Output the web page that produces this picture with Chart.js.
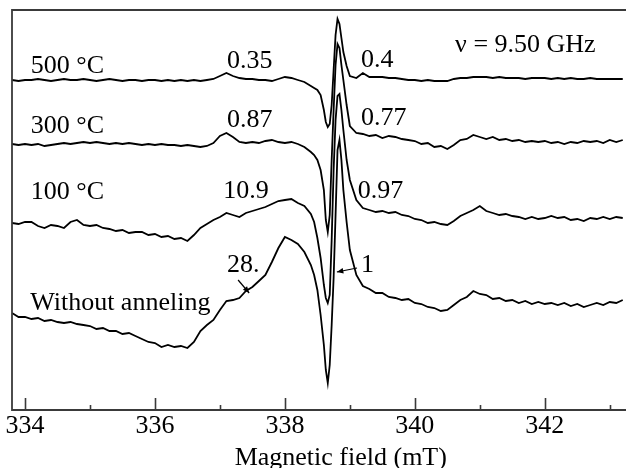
<!DOCTYPE html>
<html>
<head>
<meta charset="utf-8">
<script src="https://cdn.jsdelivr.net/npm/chart.js@4"></script>
<style>
  html, body { margin: 0; padding: 0; background: #fff; }
  canvas { display: block; }
</style>
</head>
<body>
<canvas id="eprChart" width="626" height="468"></canvas>
<script>
// magnetic field grid (mT), finer around the central line
const fields = [
  333.8, 333.9, 334.0, 334.1, 334.2, 334.3, 334.4, 334.5, 334.6, 334.7,
  334.8, 334.9, 335.0, 335.1, 335.2, 335.3, 335.4, 335.5, 335.6, 335.7,
  335.8, 335.9, 336.0, 336.1, 336.2, 336.3, 336.4, 336.5, 336.6, 336.7,
  336.8, 336.9, 337.0, 337.1, 337.2, 337.3, 337.4, 337.5, 337.6, 337.7,
  337.8, 337.9, 338.0, 338.1, 338.2, 338.3, 338.4,
  338.45, 338.5, 338.55, 338.6, 338.63, 338.66, 338.69, 338.72, 338.75, 338.78,
  338.81, 338.84, 338.87, 338.9, 338.95,
  339.0, 339.1, 339.2, 339.3, 339.4, 339.5, 339.6, 339.7, 339.8, 339.9,
  340.0, 340.1, 340.2, 340.3, 340.4, 340.5, 340.6, 340.7, 340.8, 340.9,
  341.0, 341.1, 341.2, 341.3, 341.4, 341.5, 341.6, 341.7, 341.8, 341.9,
  342.0, 342.1, 342.2, 342.3, 342.4, 342.5, 342.6, 342.7, 342.8, 342.9,
  343.0, 343.1, 343.2
];

const tickFields = [334, 336, 338, 340, 342];
const minorFields = [335, 337, 339, 341, 343];

// EPR signal (arbitrary units, spectra stacked with offsets)
const signal500 = [
  330, 329, 330, 330, 331, 330, 329, 330, 331, 330,
  330, 331, 330, 329, 330, 331, 330, 329, 330, 330,
  329, 330, 330, 329, 330, 329, 330, 329, 330, 329,
  330, 331, 334, 337, 334, 332, 331, 331, 330, 330,
  329, 331, 333, 332, 330, 328, 324,
  322, 320, 315, 300, 288, 283, 286, 305, 340, 375,
  391, 386, 372, 358, 344,
  334, 332, 337, 333, 333, 333, 332, 332, 331, 330,
  330, 329, 330, 329, 329, 329, 331, 332, 332, 333,
  333, 333, 332, 333, 332, 332, 332, 331, 332, 332,
  332, 331, 332, 331, 332, 331, 331, 332, 331, 331,
  331, 331, 331
];

const signal300 = [
  266, 265, 266, 265, 266, 264, 265, 266, 267, 266,
  267, 268, 267, 268, 267, 266, 267, 266, 267, 266,
  265, 266, 265, 266, 265, 265, 264, 265, 264, 263,
  264, 267, 274, 277, 273, 268, 267, 268, 267, 269,
  270, 268, 267, 268, 266, 263, 258,
  255, 250, 240, 220, 190, 178, 195, 250, 300, 345,
  366, 362, 345, 330, 305,
  284, 277, 276, 274, 275, 272, 274, 273, 271, 270,
  269, 266, 267, 263, 264, 261, 265, 270, 271, 275,
  273, 271, 273, 270, 271, 269, 270, 268, 269, 268,
  269, 267, 268, 266, 268, 267, 269, 268, 269, 267,
  270, 268, 270
];

const signal100 = [
  187, 186, 188, 188, 184, 182, 185, 184, 182, 188,
  190, 185, 184, 185, 182, 181, 179, 180, 177, 178,
  178, 175, 176, 173, 174, 171, 172, 169, 175, 182,
  186, 190, 193, 197, 195, 193, 197, 199, 201, 203,
  206, 209, 210, 211, 207, 204, 196,
  188, 172, 152, 125, 112, 107, 115, 170, 240, 290,
  314, 316, 300, 280, 250,
  230, 210, 202, 200, 198, 199, 197, 198, 195, 194,
  191, 190, 187, 188, 186, 185, 189, 194, 197, 200,
  204, 199, 197, 195, 196, 194, 193, 191, 193, 191,
  192, 194, 192, 193, 190, 191, 189, 192, 191, 193,
  191, 193, 192
];

const signalRaw = [
  97, 93, 93, 91, 92, 89, 90, 88, 87, 88,
  86, 85, 84, 81, 82, 79, 79, 76, 77, 74,
  71, 68, 67, 63, 65, 63, 64, 62, 68, 79,
  85, 90, 100, 109, 110, 112, 119, 123, 129, 135,
  148, 162, 173, 170, 166, 158, 145,
  135, 120, 95, 65, 40, 27, 45, 85, 132, 195,
  260, 270, 250, 220, 188,
  160, 135, 124, 121, 117, 117, 113, 112, 110, 111,
  107, 106, 103, 102, 99, 100, 105, 110, 113, 119,
  116, 115, 111, 112, 109, 110, 107, 109, 106, 108,
  106, 107, 105, 107, 104, 106, 103, 105, 107, 105,
  108, 107, 110
];

// text labels placed in data coordinates [field, signal]
const labelTexts = ['500 °C', '0.35', '0.4', 'ν = 9.50 GHz', '300 °C', '0.87', '0.77',
  '100 °C', '10.9', '0.97', 'Without anneling', '28.', '1'];
const labelFields = [334.09, 337.11, 339.17, 340.62, 334.09, 337.11, 339.17,
  334.09, 337.05, 339.12, 334.08, 337.11, 339.17];
const labelSignals = [337, 342, 343, 358, 277, 283, 285, 211, 212, 212, 100, 138, 138];

// arrows [fromField, fromSignal, toField, toSignal]
const arrows = [
  [337.28, 130, 337.45, 117],
  [339.11, 142, 338.80, 138]
];

const serif = '"Liberation Serif", "DejaVu Serif", serif';

function makeData(vals) {
  return fields.map((f, i) => ({ x: f, y: vals[i] }));
}

function lineSet(label, vals) {
  return {
    label: label,
    data: makeData(vals),
    borderColor: '#000',
    borderWidth: 1.8,
    pointRadius: 0,
    tension: 0,
    fill: false
  };
}

const frameAndText = {
  id: 'frameAndText',
  afterDatasetsDraw(chart) {
    const { ctx, chartArea: a, scales: { x, y } } = chart;
    ctx.save();

    // frame: left, top, bottom (right side is cut off)
    ctx.strokeStyle = '#3a3a3a';
    ctx.lineWidth = 1.8;
    ctx.beginPath();
    ctx.moveTo(a.right + 2, a.top);
    ctx.lineTo(a.left, a.top);
    ctx.lineTo(a.left, a.bottom);
    ctx.lineTo(a.right + 2, a.bottom);
    ctx.stroke();

    // inward ticks, long for labelled ones
    ctx.lineWidth = 1.6;
    const tick = (v, len) => {
      const px = Math.round(x.getPixelForValue(v)) + 0.5;
      ctx.beginPath();
      ctx.moveTo(px, a.bottom);
      ctx.lineTo(px, a.bottom - len);
      ctx.stroke();
    };
    tickFields.forEach(v => tick(v, 12));
    minorFields.forEach(v => tick(v, 5));

    // annotations
    ctx.fillStyle = '#000';
    ctx.font = '26px ' + serif;
    ctx.textAlign = 'left';
    ctx.textBaseline = 'alphabetic';
    labelTexts.forEach((t, i) => {
      ctx.fillText(t, x.getPixelForValue(labelFields[i]), y.getPixelForValue(labelSignals[i]));
    });

    // arrows
    ctx.strokeStyle = '#000';
    ctx.lineWidth = 1.2;
    arrows.forEach(([f0, s0, f1, s1]) => {
      const x0 = x.getPixelForValue(f0), y0 = y.getPixelForValue(s0);
      const x1 = x.getPixelForValue(f1), y1 = y.getPixelForValue(s1);
      ctx.beginPath();
      ctx.moveTo(x0, y0);
      ctx.lineTo(x1, y1);
      ctx.stroke();
      const ang = Math.atan2(y1 - y0, x1 - x0);
      const hl = 7, hw = 0.4;
      ctx.beginPath();
      ctx.moveTo(x1, y1);
      ctx.lineTo(x1 - hl * Math.cos(ang - hw), y1 - hl * Math.sin(ang - hw));
      ctx.lineTo(x1 - hl * Math.cos(ang + hw), y1 - hl * Math.sin(ang + hw));
      ctx.closePath();
      ctx.fill();
    });

    // axis title
    ctx.textAlign = 'center';
    ctx.fillText('Magnetic field (mT)', x.getPixelForValue(338.86), a.bottom + 55);

    ctx.restore();
  }
};

const ctx = document.getElementById('eprChart').getContext('2d');
const eprChart = new Chart(ctx, {
  type: 'line',
  data: {
    datasets: [
      lineSet('500 °C', signal500),
      lineSet('300 °C', signal300),
      lineSet('100 °C', signal100),
      lineSet('Without anneling', signalRaw)
    ]
  },
  options: {
    responsive: false,
    animation: false,
    events: [],
    layout: { padding: { left: 12, top: 10, right: 0, bottom: 0 } },
    plugins: {
      legend: { display: false },
      tooltip: { enabled: false }
    },
    scales: {
      x: {
        type: 'linear',
        min: 333.8,
        max: 343.25,
        grid: { display: false, drawTicks: false },
        border: { display: false },
        afterBuildTicks: (s) => { s.ticks = tickFields.map(v => ({ value: v })); },
        ticks: {
          autoSkip: false,
          maxRotation: 0,
          padding: 1,
          color: '#000',
          font: { family: serif, size: 26 },
          callback: (v) => String(v)
        },
        afterFit: (s) => { s.height = 58; }
      },
      y: {
        display: false,
        min: 0,
        max: 400
      }
    }
  },
  plugins: [frameAndText]
});
</script>
</body>
</html>
